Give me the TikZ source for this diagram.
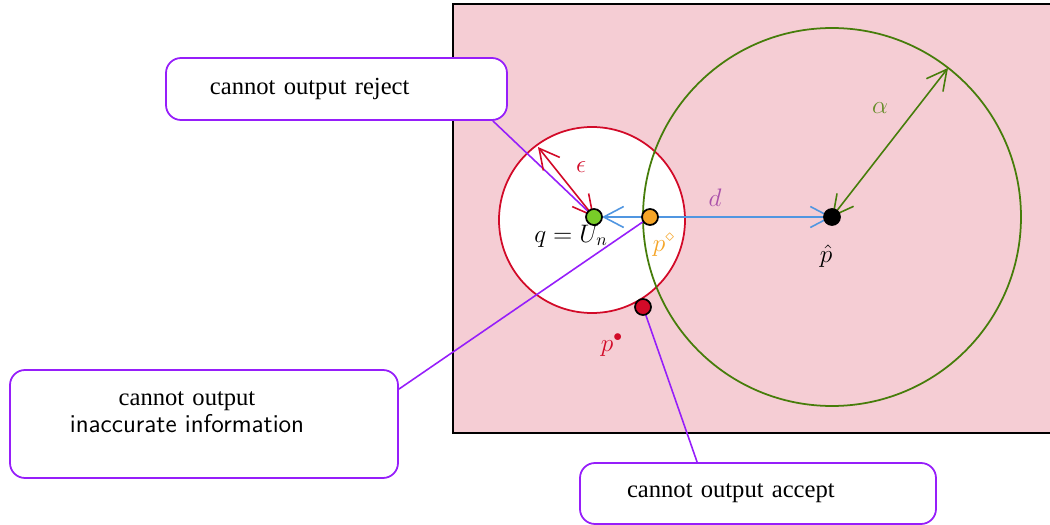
\documentclass[tikz,border=0pt]{standalone}
\usepackage{fontspec}
\newfontfamily\calloutfont{Liberation Serif}
\usepackage{xcolor}
\definecolor{regionpink}{RGB}{245,205,212}
\definecolor{ballred}{RGB}{210,10,40}
\definecolor{ballgreen}{RGB}{70,125,10}
\definecolor{alphagreen}{RGB}{100,140,40}
\definecolor{distblue}{RGB}{80,150,225}
\definecolor{dviolet}{RGB}{170,80,170}
\definecolor{pdiamond}{RGB}{245,165,40}
\definecolor{qgreen}{RGB}{120,205,40}
\definecolor{calloutviolet}{RGB}{150,30,250}
\usetikzlibrary{arrows.meta,positioning}
\tikzset{
  callout/.style={draw=calloutviolet, line width=1pt, fill=white, rounded corners=0.3cm, font=\calloutfont\fontsize{14}{15.5}\selectfont},
  calloutline/.style={draw=calloutviolet, line width=0.9pt},
  pointdot/.style={circle, draw=black, line width=1pt, minimum size=0.32cm, inner sep=0pt}
}

\begin{document}
\begin{tikzpicture}[>={Straight Barb[length=4mm,width=4.2mm]}, font=\fontsize{14}{17}\selectfont]
  \useasboundingbox (0,0) rectangle (21,10.5);
  \clip (0,0) rectangle (21,10.5);

  %% Region and balls
  \draw[fill=regionpink, line width=1.2pt] (9.06,1.84) rectangle (21.5,10.42);
  \draw[draw=ballred, fill=white, line width=1pt] (11.84,6.10) circle (1.86);
  \draw[draw=ballgreen, line width=1pt] (16.64,6.16) circle (3.78);

  %% Callout boxes
  \node[callout, text width=5.06cm, inner xsep=0.88cm, minimum height=1.24cm, align=left] (reject) at (6.73,8.72) {cannot output reject};
  \node[callout, text width=7.36cm, inner xsep=0.2cm, minimum height=2.16cm, align=center] (inacc) at (4.08,2.02)
    {cannot output\rule{0.68cm}{0pt}\\{\normalfont\sffamily\fontsize{14.6}{15.5}\selectfont inaccurate information}\rule{0.68cm}{0pt}\rule[-13.3pt]{0pt}{1pt}};
  \node[callout, text width=5.24cm, inner xsep=0.94cm, minimum height=1.22cm, align=left] (accept) at (15.16,0.63) {cannot output accept};

  %% Points
  \coordinate (q) at (11.88,6.16);
  \coordinate (pd) at (13.0,6.16);
  \coordinate (phat) at (16.64,6.16);
  \coordinate (pb) at (12.86,4.36);
  \coordinate (epstip) at (10.76,7.56);
  \coordinate (alphatip) at (18.96,9.14);

  %% Callout lines
  \coordinate (rejectfoot) at ([xshift=-0.3cm]reject.south east);
  \coordinate (inaccfoot) at ([yshift=-0.4cm]inacc.north east);
  \coordinate (acceptfoot) at ([xshift=2.36cm]accept.north west);
  \draw[calloutline] (rejectfoot) -- (q);
  \draw[calloutline] (inaccfoot) -- (pd);
  \draw[calloutline] (acceptfoot) -- (pb);

  %% Radii and distance
  \draw[<->, ballred, line width=0.9pt] (q) -- (epstip);
  \draw[<->, ballgreen, line width=0.9pt] (phat) -- (alphatip);
  \draw[<->, distblue, line width=0.9pt] ([xshift=0.16cm]q) -- (phat);

  %% Dots
  \node[pointdot, fill=qgreen] (qdot) at (q) {};
  \node[pointdot, fill=pdiamond] (pddot) at (pd) {};
  \node[pointdot, fill=black] (phatdot) at (phat) {};
  \node[pointdot, fill=ballred] (pbdot) at (pb) {};

  %% Labels
  \node[text=ballred] (epslabel) at (11.62,7.16) {$\epsilon$};
  \node[text=dviolet] (dlabel) at (14.3,6.54) {$d$};
  \node[text=alphagreen] (alphalabel) at (17.6,8.34) {$\alpha$};
  \node (qlabel) at (11.42,5.78) {$q=U_n$};
  \node[text=pdiamond] (pdlabel) at (13.28,5.6) {$p^\diamond$};
  \node (phatlabel) at (16.52,5.38) {$\hat p$};
  \node[text=ballred] (pblabel) at (12.24,3.6) {$p^\bullet$};
\end{tikzpicture}
\end{document}
